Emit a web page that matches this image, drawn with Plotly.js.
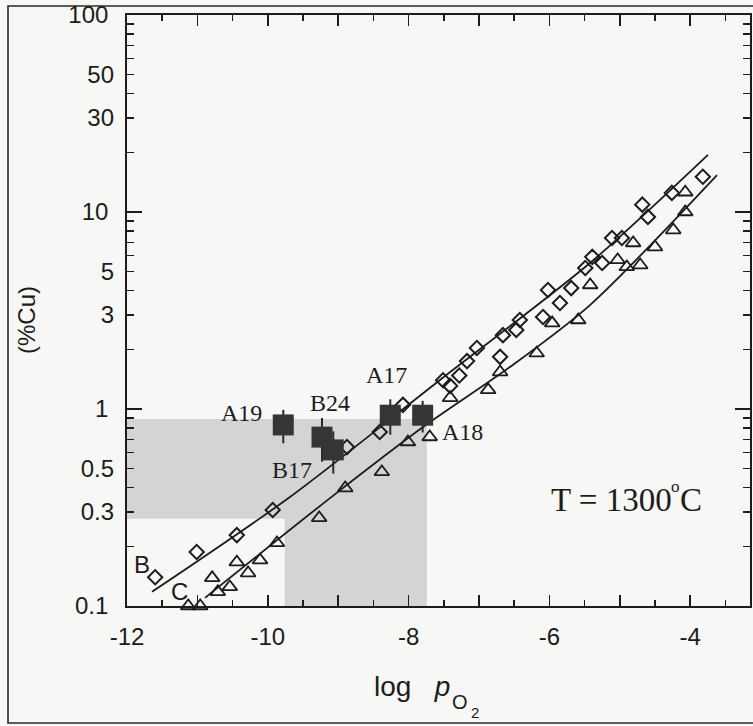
<!DOCTYPE html>
<html>
<head>
<meta charset="utf-8">
<script src="https://cdn.plot.ly/plotly-3.0.1.min.js"></script>
<style>html,body{margin:0;padding:0;background:#f7f7f5;}</style>
</head>
<body>
<div id="chart" style="width:753px;height:726px;"></div>
<script>
// ---- data ----
const diamondX = [-11.60,-11.01,-10.44,-9.93,-8.875,-8.41,-8.08,-7.51,-7.41,-7.28,-7.17,-7.03,-6.70,-6.66,-6.42,-6.47,-6.09,-6.02,-5.85,-5.69,-5.49,-5.39,-5.25,-5.11,-4.97,-4.68,-4.60,-4.26,-3.82];
const diamondY = [0.140,0.188,0.229,0.307,0.641,0.764,1.05,1.40,1.31,1.48,1.75,2.04,1.84,2.37,2.83,2.52,2.93,4.02,3.45,4.11,5.20,5.92,5.51,7.38,7.38,10.9,9.44,12.5,15.1];

const triangleX = [-11.13,-10.96,-10.79,-10.71,-10.54,-10.44,-10.28,-10.11,-9.87,-9.27,-8.90,-8.38,-8.01,-7.70,-7.41,-6.87,-6.70,-6.18,-5.96,-5.59,-5.42,-5.03,-4.90,-4.81,-4.71,-4.50,-4.24,-4.07,-4.07];
const triangleY = [0.100,0.100,0.139,0.118,0.125,0.167,0.147,0.171,0.209,0.280,0.397,0.479,0.680,0.721,1.14,1.25,1.54,1.92,2.73,2.83,4.26,5.71,5.26,6.96,5.38,6.64,8.10,10.0,12.6];

const fitUpperX = [-11.645,-9.685,-7.554,-5.423,-3.747];
const fitUpperY = [0.118,0.3575,1.404,5.51,19.5];
const fitLowerX = [-10.892,-9.116,-7.795,-6.560,-5.423,-3.619];
const fitLowerY = [0.110,0.353,0.810,1.634,3.37,15.4];

const sampleNames = ['A19','B24','B17','A17','A18'];
const sampleX = [-9.78,-9.23,-9.07,-8.26,-7.80];
const sampleY = [0.83,0.72,0.62,0.93,0.93];
const sampleErr = [0.16,0.18,0.15,0.19,0.17];

const shadeX = [-12,-12,-7.74,-7.74,-9.76,-9.76,-12];
const shadeY = [0.277,0.89,0.89,0.1,0.1,0.277,0.277];

const yTickMajor = [0.1,1,10,100];
const yTickMajorText = ['0.1','1','10','100'];
const yTickMid = [0.3,0.5,3,5,30,50];
const yTickMidText = ['0.3','0.5','3','5','30','50'];
const xTickLabeled = [-12,-10,-8,-6,-4];
const xTickLabeledText = ['-12','-10','-8','-6','-4'];
const xTickOdd = [-11,-9,-7,-5];

const labelText = ['B','C','A19','B24','B17','A17','A18','T = 1300','o','C'];
const labelX = [-11.79,-11.25,-10.37,-9.12,-9.66,-8.31,-7.23,-4.24,-4.205,-4.165];
const labelY = [0.1615,0.118,0.955,1.07,0.49,1.49,0.764,0.345,0.405,0.345];
const labelAnchor = ['center','center','center','center','center','center','center','right','center','left'];
const labelFont = ['sans','sans','serif','serif','serif','serif','serif','big','small','big'];

// ---- build ----
const ink = '#1c1c1c';
const sans = '"Liberation Sans", Arial, sans-serif';
const serif = '"Liberation Serif", "Times New Roman", serif';
const fonts = {
  sans:{family:sans, size:24, color:ink},
  serif:{family:serif, size:24, color:ink},
  big:{family:serif, size:33, color:ink},
  small:{family:serif, size:17, color:ink}
};

const traces = [
  {x: shadeX, y: shadeY, type:'scatter', mode:'lines', fill:'toself', fillcolor:'#d4d4d4',
   line:{width:0, color:'rgba(0,0,0,0)'}, hoverinfo:'skip', showlegend:false},
  {x: fitUpperX, y: fitUpperY, type:'scatter', mode:'lines', line:{color:ink, width:1.8, shape:'spline', smoothing:0.8}, showlegend:false},
  {x: fitLowerX, y: fitLowerY, type:'scatter', mode:'lines', line:{color:ink, width:1.8, shape:'spline', smoothing:0.8}, showlegend:false},
  {x: diamondX, y: diamondY, type:'scatter', mode:'markers', cliponaxis:false,
   marker:{symbol:'diamond-open', size:11, color:ink, line:{color:ink, width:2}}, showlegend:false},
  {x: triangleX, y: triangleY, type:'scatter', mode:'markers', cliponaxis:false,
   marker:{symbol:'triangle-up-open', size:13, color:ink, line:{color:ink, width:1.8}}, showlegend:false},
  {x: sampleX, y: sampleY, text: sampleNames, type:'scatter', mode:'markers',
   error_y:{type:'data', array: sampleErr, visible:true, color:'#2a2a2a', thickness:2, width:0},
   marker:{symbol:'square', size:21, color:'#353535', line:{color:'#2a2a2a', width:0}}, showlegend:false},
  {x:[null], y:[null], yaxis:'y2', type:'scatter', mode:'markers', showlegend:false, hoverinfo:'skip'},
  {x:[null], y:[null], xaxis:'x2', type:'scatter', mode:'markers', showlegend:false, hoverinfo:'skip'}
];

const annotations = labelText.map((t,i) => ({
  x: labelX[i], y: Math.log10(labelY[i]), xref:'x', yref:'y', text: t, showarrow:false,
  xanchor: labelAnchor[i], yanchor:'middle', font: fonts[labelFont[i]], borderpad:0
}));

// axis titles
annotations.push({x:-0.1605, y:0.484, xref:'paper', yref:'paper', text:'(%Cu)', textangle:-90,
  showarrow:false, xanchor:'center', yanchor:'middle', font:{family:sans, size:24, color:ink}});
annotations.push({x:0.3949, y:-0.1354, xref:'paper', yref:'paper',
  text:'log\u00a0\u00a0\u00a0<i>p</i>', showarrow:false, xanchor:'left', yanchor:'middle',
  font:{family:sans, size:28, color:ink}, borderpad:0});
annotations.push({x:0.5345, y:-0.162, xref:'paper', yref:'paper', text:'O', showarrow:false,
  xanchor:'center', yanchor:'middle', font:{family:sans, size:20, color:ink}, borderpad:0});
annotations.push({x:0.5586, y:-0.181, xref:'paper', yref:'paper', text:'2', showarrow:false,
  xanchor:'center', yanchor:'middle', font:{family:sans, size:15, color:ink}, borderpad:0});

const layout = {
  width:753, height:726,
  margin:{l:127, r:3, t:15, b:120},
  paper_bgcolor:'#f7f7f5', plot_bgcolor:'rgba(0,0,0,0)',
  showlegend:false,
  xaxis:{range:[-12,-3.15], tickvals:xTickLabeled, ticktext:xTickLabeledText, ticks:'inside', ticklen:11,
    tickwidth:1.5, tickcolor:ink, showline:true, linecolor:ink, linewidth:1.8, mirror:'ticks',
    showgrid:false, zeroline:false, ticklabelstandoff:8,
    minor:{dtick:0.5, ticks:'inside', ticklen:6, tickwidth:1.5, tickcolor:ink, showgrid:false},
    tickfont:{family:sans, size:24, color:ink}},
  xaxis2:{range:[-12,-3.15], overlaying:'x', side:'bottom', anchor:'y', tickvals:xTickOdd,
    ticks:'inside', ticklen:11, tickwidth:1.5, tickcolor:ink, showticklabels:false,
    showline:false, mirror:'ticks', showgrid:false, zeroline:false},
  yaxis:{type:'log', range:[-1,2], tickvals:yTickMajor, ticktext:yTickMajorText, ticks:'inside',
    ticklen:15, tickwidth:1.5, tickcolor:ink, showline:true, linecolor:ink, linewidth:1.8,
    mirror:'ticks', showgrid:false, zeroline:false, ticklabelstandoff:12,
    minor:{dtick:'D1', ticks:'inside', ticklen:7, tickwidth:1.5, tickcolor:ink, showgrid:false},
    tickfont:{family:sans, size:24, color:ink}},
  yaxis2:{type:'log', range:[-1,2], overlaying:'y', side:'left', tickvals:yTickMid, ticktext:yTickMidText,
    ticks:'', showline:false, showgrid:false, zeroline:false, ticklabelstandoff:12,
    tickfont:{family:sans, size:24, color:ink}},
  annotations: annotations,
  shapes:[
    {type:'rect', xref:'paper', yref:'paper', x0:-0.191, x1:1.05, y0:-0.198, y1:1.0152,
     line:{color:'#2a2a2a', width:1.6}, fillcolor:'rgba(0,0,0,0)', layer:'below'}
  ]
};

Plotly.newPlot('chart', traces, layout, {displayModeBar:false, staticPlot:true});
</script>
</body>
</html>
